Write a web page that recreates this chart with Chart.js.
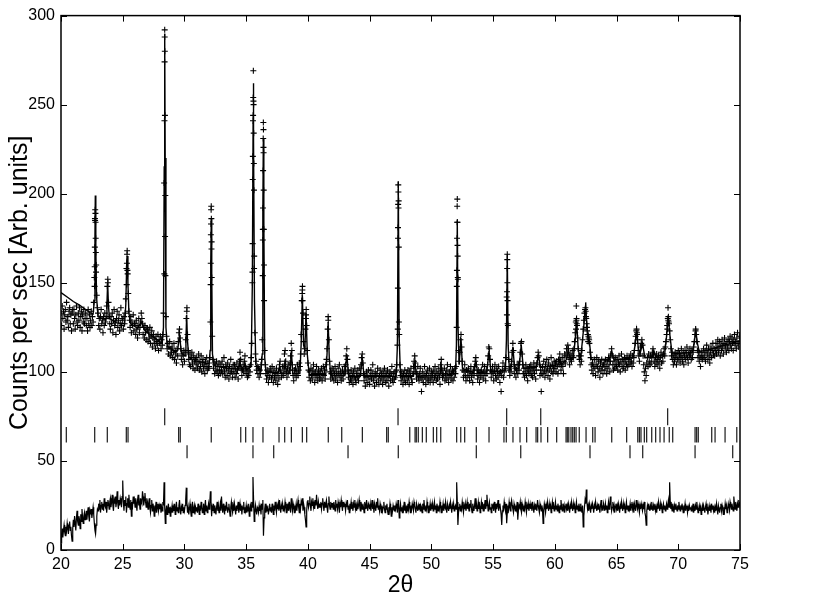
<!DOCTYPE html>
<html><head><meta charset="utf-8">
<script src="https://cdn.jsdelivr.net/npm/chart.js@4.4.1/dist/chart.umd.min.js"></script>
<style>html,body{margin:0;padding:0;background:#fff;}#wrap{width:830px;height:602px;}</style>
</head><body><div id="wrap"><canvas id="c" width="830" height="602"></canvas></div>
<script>
// scan grid of the measurement (2theta start and step)
const scanStart = 20, scanStep = 0.05;
// observed counts, one row per degree (20 steps of 0.05)
const obsCounts = [
133,126,137,130,134,124,132,135,128,139,129,131,125,134,136,127,132,123,133,135,
127,135,130,124,132,137,128,126,133,129,136,125,131,134,123,132,128,135,127,130,
133,126,130,123,135,127,132,125,129,134,126,131,128,139,153,186,184,160,143,136,
133,126,130,124,131,135,127,129,122,131,126,133,128,130,137,148,150,139,131,127,
124,131,127,133,122,129,135,126,128,121,130,134,125,129,132,123,127,136,126,130,
129,124,131,127,133,141,158,166,155,144,134,129,125,131,122,128,126,132,123,127,
127,121,129,124,119,126,130,122,125,128,133,130,127,121,125,119,126,122,118,124,
124,117,122,119,125,116,120,123,114,119,121,116,118,113,120,117,115,121,112,118,
116,120,113,118,115,121,133,206,288,199,131,120,113,116,110,114,117,109,113,111,
114,108,111,116,107,112,110,105,113,109,117,122,124,119,113,107,110,104,109,112,
106,111,118,130,136,121,112,107,104,110,103,108,111,105,102,109,106,101,107,104,
108,102,105,110,101,106,103,109,100,105,107,102,104,99,106,103,108,101,105,102,
103,108,128,183,173,120,107,102,105,99,104,101,106,100,103,98,105,101,99,104,
101,106,99,103,108,100,97,104,102,98,105,101,96,103,99,107,100,102,97,104,
100,104,97,102,99,105,101,96,103,106,111,107,102,98,101,104,100,106,109,103,
99,102,97,101,98,103,100,104,108,116,150,241,250,165,122,110,106,101,103,99,
102,97,101,99,104,107,118,180,226,140,112,104,99,96,101,98,94,100,97,102,
100,96,103,98,94,101,97,99,95,102,98,93,100,96,104,106,101,97,99,103,
98,103,110,112,106,100,97,102,99,104,101,105,109,116,112,104,98,95,101,99,
102,97,100,104,98,101,105,103,110,121,140,146,133,117,110,113,124,132,126,112,
105,101,97,100,95,102,98,96,101,104,99,94,100,97,103,98,95,101,99,96,
100,97,102,95,99,103,98,101,96,104,107,113,124,129,118,106,100,96,99,102,
97,101,95,99,103,96,100,98,94,102,99,104,97,100,95,98,101,96,99,103,
100,104,109,113,107,101,97,94,99,96,101,95,98,93,100,97,102,96,94,99,
97,101,95,98,102,99,104,108,110,105,99,95,98,92,97,100,94,98,101,96,
93,98,101,96,99,104,95,97,92,100,98,94,99,102,96,93,98,101,95,99,
97,93,100,96,102,98,94,99,95,101,97,92,98,100,95,99,103,96,94,99,
96,100,97,101,104,115,181,196,121,104,98,95,100,97,93,99,96,101,94,98,
99,95,101,97,93,100,98,102,96,94,99,103,106,109,105,100,96,99,103,97,
95,99,102,97,89,96,100,94,98,103,97,93,99,96,101,95,98,102,94,97,
100,96,99,94,101,97,103,98,95,100,96,99,102,97,93,104,107,101,97,99,
98,102,95,99,96,101,104,97,94,100,98,103,96,99,101,95,100,97,102,99,
103,125,184,152,112,106,111,118,121,114,106,101,97,100,104,98,95,101,97,100,
102,98,95,100,103,97,99,94,101,98,103,106,108,104,99,96,101,98,94,100,
97,101,99,104,96,100,103,98,95,101,99,104,109,114,113,107,101,97,100,103,
99,95,101,104,98,96,102,100,97,103,99,94,100,89,98,101,105,97,100,103,
102,108,142,163,126,107,101,98,103,100,106,111,116,112,104,99,102,97,101,104,
99,104,101,106,111,116,117,110,104,99,102,97,100,104,98,102,95,101,99,103,
100,104,98,102,97,101,105,99,103,96,101,105,108,111,109,104,98,101,89,99,
103,99,106,101,97,104,100,107,102,98,105,101,96,103,108,100,104,99,102,106,
102,105,100,106,103,99,107,104,110,106,101,104,108,103,99,106,110,105,109,113,
111,115,113,108,104,107,110,106,109,112,108,113,117,122,128,129,126,119,113,109,
107,104,109,106,112,118,124,129,133,135,134,130,125,121,117,119,116,111,108,104,
101,105,99,103,107,102,98,104,108,103,100,106,102,97,105,101,107,103,99,104,
105,101,107,103,99,106,102,108,104,100,106,110,113,109,104,101,106,102,108,104,
103,107,101,105,109,104,100,106,110,103,107,102,105,108,101,106,104,109,103,107,
104,108,105,110,106,103,109,105,108,112,116,120,123,122,118,112,109,106,110,114,
116,118,115,109,104,100,95,102,98,105,108,103,110,106,104,109,105,108,111,113,
110,106,103,108,105,110,107,104,109,106,102,108,111,105,109,106,110,113,109,114,
117,121,126,130,131,127,123,118,113,109,111,107,104,109,106,111,108,104,110,107,
112,107,110,105,109,113,108,106,111,104,109,112,107,110,114,108,105,111,109,113,
110,107,112,108,111,114,117,121,123,121,117,112,108,111,106,109,103,108,111,107,
109,113,108,111,106,112,115,110,107,113,109,105,111,114,108,112,116,110,113,109,
112,116,110,114,118,111,113,117,109,115,112,118,114,110,116,119,113,115,111,117,
114,118,112,117,120,115,113,119,116,112,118,121,115,117,113,119,122,116,114,120,
117];
// extra observed points on the steep peak flanks
const obsPeakX = [22.77,22.79,22.76,22.81,22.74,22.82,22.73,22.84,22.72,23.79,25.36,25.34,25.38,25.32,
28.40,28.41,28.39,28.42,28.38,28.43,28.37,28.46,30.19,
32.17,32.16,32.18,32.14,32.19,32.13,32.21,32.12,
35.58,35.57,35.59,35.56,35.61,35.54,35.62,35.53,35.63,35.52,35.64,35.51,
36.39,36.40,36.38,36.41,36.37,36.42,36.36,36.43,36.35,36.44,36.34,
39.56,39.54,39.57,39.86,39.84,41.64,
47.32,47.33,47.31,47.34,47.30,47.36,47.29,47.37,47.28,
52.10,52.09,52.11,52.08,52.12,52.13,52.07,52.14,52.06,
56.15,56.14,56.16,56.13,56.17,56.12,56.18,
61.74,61.76,61.78,61.72,62.48,62.52,62.58,62.62,62.68,62.72,62.78,
66.62,66.66,69.17,69.19,69.22,69.12,71.41];
const obsPeakY = [191,189,185,175,170,167,159,156,148,152,168,161,157,149,
292,280,274,244,241,176,155,154,134,
193,191,186,177,169,161,153,149,
269,254,252,244,234,221,217,208,202,172,158,156,
240,236,231,223,213,202,192,180,174,160,154,
148,144,140,135,130,131,
205,201,194,192,175,170,147,128,124,
197,193,184,175,171,165,157,153,148,
166,158,150,145,140,132,127,
137,130,127,124,136,131,127,123,121,120,118,
124,121,136,129,128,124,124];
// calculated profile (knots)
const calcX = [20,20.5,21,21.5,22,22.4,22.6,22.7,22.75,22.78,22.82,22.88,23.0,23.5,23.65,23.72,23.78,23.84,23.92,24.5,
25.15,25.25,25.33,25.36,25.42,25.5,25.65,26.2,26.5,26.8,27.5,28.2,28.3,28.36,28.40,28.44,28.5,28.6,29.3,29.45,29.6,29.75,
30.05,30.12,30.18,30.24,30.35,31.0,32.0,32.08,32.13,32.17,32.21,32.27,32.4,33.5,34.4,34.5,34.6,34.8,34.9,35.0,
35.4,35.5,35.56,35.58,35.61,35.67,35.78,36.2,36.3,36.35,36.39,36.43,36.5,36.6,37.6,37.7,37.8,38.05,38.15,38.25,
38.55,38.66,38.77,39.35,39.45,39.55,39.65,39.75,39.85,39.95,40.1,41.45,41.55,41.64,41.73,41.85,43.0,43.15,43.3,
44.25,44.4,44.55,47.15,47.25,47.32,47.39,47.5,48.55,48.67,48.8,50.7,50.8,50.9,51.95,52.03,52.10,52.16,52.25,52.4,52.52,
53.45,53.6,53.75,54.5,54.67,54.82,56.0,56.08,56.15,56.22,56.32,56.45,56.6,56.75,57.1,57.28,57.45,58.5,58.67,58.85,
60.3,60.4,60.5,60.95,61.1,61.25,61.5,61.65,61.77,61.9,62.1,62.3,62.45,62.5,62.55,62.7,62.8,62.95,64.4,64.6,64.8,
66.35,66.5,66.63,66.75,66.9,67.1,67.3,67.9,68.02,68.15,68.9,69.05,69.19,69.33,69.5,71.15,71.3,71.42,71.55,71.7,
72.5,73.5,74.5,75];
const calcY = [144.5,142,139.5,137.5,135,133,132.5,140,175,199,170,142,131,129.5,130,138,150,138,130,127.5,
127,138,163,165,150,133,127,124.5,128,123,119.5,116,125,215,290,220,125,114.5,111,112,121,110.5,
109,118,132,118,108,106,104.5,112,160,186,155,110,103.5,102,101.5,106,101.5,101.5,105,101,
103,150,240,262,230,140,104,100.5,110,190,231,185,108,100,99.5,103,99.5,99,107,99,
99.5,112,99,99,115,143,115,112,133,110,98.5,98.5,110,128,108,98,98,110,97.5,
97.5,108,97.5,97.5,115,207,120,97.5,97.5,106,97.5,98,104,98,99,115,185,125,104,119,102,
99.5,106,99.5,100,112,100,101,118,166,115,101,101.5,114,101.5,102,115,102,102.5,109,102.5,
104,107,104,107,112,107,108,118,128,112,108,122,134,139,131,118,117,107,106.5,112,106.5,
108,115,123,114,110,116,108,108.5,112,108.5,110,120,131,120,110,111,117,123,116,111.5,
112.5,114.5,116.5,117.5];
// difference curve (obs - calc, offset), same scan grid
const diffCounts = [
4,9,12,7,11,14,10,8,13,11,15,12,9,14,16,11,13,8,5,12,
17,13,19,15,11,18,22,16,14,19,17,12,20,16,23,18,15,19,21,17,
19,22,17,21,24,19,16,22,20,23,18,21,24,20,15,11,9,14,19,23,
22,26,23,28,21,25,27,23,26,22,29,25,24,27,21,25,28,26,23,27,
29,24,27,31,25,22,28,26,30,24,27,33,26,23,28,25,29,27,24,30,
39,27,22,28,25,30,21,26,29,24,31,26,23,28,19,27,25,30,26,28,
24,29,26,22,28,31,25,27,23,29,27,26,33,30,25,28,32,27,24,29,
27,23,26,29,24,21,25,28,22,26,24,19,25,23,27,21,24,26,22,25,
23,26,21,24,22,27,25,38,24,15,22,25,20,23,26,21,24,19,23,22,
25,21,24,22,26,20,23,27,22,24,21,25,28,23,20,24,22,26,21,24,
22,25,28,35,26,21,24,20,23,26,22,19,24,27,21,23,25,20,24,22,
24,21,26,23,20,25,22,27,24,21,23,26,20,24,28,22,25,21,23,26,
23,26,33,27,19,24,22,26,21,25,23,20,24,27,22,25,21,23,26,22,
30,24,21,26,23,20,25,22,27,24,21,23,26,22,19,24,27,23,21,25,
22,26,23,20,25,22,24,27,21,23,26,22,25,20,24,23,27,21,24,22,
25,21,24,22,26,19,23,25,22,27,24,41,28,16,21,25,22,20,24,23,
21,25,22,24,20,26,23,28,8,18,23,26,21,24,22,25,20,23,26,22,
24,21,26,23,20,25,22,27,24,21,25,23,26,22,28,24,21,25,23,26,
22,25,23,27,24,21,26,23,25,22,27,24,21,29,25,22,26,24,21,25,
23,26,22,25,28,24,21,26,23,27,25,29,22,26,24,20,17,13,22,27,
28,24,26,30,25,22,27,25,29,24,26,23,28,25,31,26,23,27,24,26,
24,27,23,26,29,25,22,27,24,26,28,24,21,26,30,25,23,27,24,26,
26,23,27,25,22,28,24,26,23,27,25,21,26,24,28,25,22,27,24,26,
25,22,26,24,28,23,25,21,26,24,27,23,25,22,26,24,28,23,25,22,
26,23,25,28,24,22,27,25,23,26,24,21,27,25,23,28,24,22,26,25,
23,26,22,25,28,23,25,21,26,24,22,27,24,29,23,25,22,26,24,21,
25,22,24,27,23,21,25,23,26,22,20,24,22,26,23,19,24,22,25,23,
22,25,23,26,24,21,28,25,18,23,26,22,24,21,25,23,27,22,24,21,
25,22,26,23,27,24,21,25,23,26,24,22,27,25,23,21,26,24,22,25,
23,26,22,25,24,21,26,23,28,24,22,25,23,27,24,21,25,23,26,22,
25,23,26,22,24,27,23,25,21,26,24,22,25,23,27,24,21,25,23,26,
22,25,24,27,23,21,26,24,22,25,23,27,24,21,25,23,26,22,24,25,
23,38,27,14,21,24,26,22,25,23,27,24,21,25,23,26,22,24,27,23,
25,22,26,24,28,23,21,26,24,22,25,29,23,26,22,24,27,23,25,21,
24,27,23,25,22,26,24,28,23,25,31,26,22,25,27,23,24,21,26,24,
25,22,27,24,21,26,23,25,28,22,24,26,23,20,14,22,25,23,27,24,
22,26,15,21,25,23,27,24,22,26,28,25,23,21,26,24,22,25,23,27,
17,22,25,24,27,23,21,26,24,22,25,23,27,24,21,25,23,26,22,24,
26,23,25,22,27,24,21,25,23,26,24,22,28,25,23,21,26,24,22,25,
23,15,22,26,24,21,25,23,27,24,22,26,23,25,21,24,27,23,25,22,
24,27,23,25,22,26,24,21,25,23,28,24,22,26,23,25,21,24,26,23,
25,22,26,24,21,25,23,27,24,22,26,23,25,21,24,27,23,25,22,26,
24,22,26,23,21,25,13,19,24,28,26,34,27,23,25,22,26,24,21,25,
23,26,24,21,25,23,27,24,22,25,23,26,24,21,25,28,23,24,22,26,
24,22,26,23,25,21,24,27,23,25,30,26,22,24,27,23,25,21,24,26,
23,25,22,26,24,21,25,23,27,24,22,26,23,25,21,24,27,23,25,22,
25,23,26,22,24,27,23,25,21,26,24,22,28,25,23,26,24,21,25,23,
26,24,22,25,23,27,21,19,14,22,25,23,26,24,22,25,23,27,24,22,
25,23,26,22,24,21,25,23,27,24,22,26,23,25,21,24,26,23,25,22,
24,26,23,25,28,24,38,27,23,25,22,26,24,21,25,23,26,24,22,25,
23,27,24,22,25,23,26,24,21,25,23,26,22,24,25,21,24,22,25,23,
24,22,25,23,26,21,24,22,25,23,27,24,21,23,25,22,24,20,23,25,
22,25,23,21,24,26,22,24,20,23,25,22,24,21,26,23,25,22,24,21,
24,22,26,23,20,25,23,21,24,26,22,25,23,20,24,22,26,23,25,21,
23,26,24,22,27,25,23,26,24,22,30,26,23,27,25,22,26,24,28,25,
27];
// Bragg reflection positions of the three phases
const phase1Ticks = [28.40,47.30,56.10,58.86,69.14];
const phase2Ticks = [20.43,22.73,23.75,25.29,25.43,29.53,29.66,32.17,34.56,34.96,35.55,36.36,37.66,38.12,38.66,39.55,39.90,41.65,42.74,44.41,46.38,46.51,48.25,48.68,48.78,48.94,49.27,49.59,50.16,50.43,50.76,52.05,52.38,52.70,53.64,54.67,55.88,56.07,56.61,57.18,57.72,58.48,58.61,58.88,59.42,60.15,60.91,61.01,61.13,61.31,61.45,61.58,61.72,61.98,62.53,63.07,63.26,64.61,65.82,66.72,66.85,66.98,67.25,67.44,67.85,68.17,68.52,68.85,69.27,69.55,71.36,71.49,71.62,72.71,72.98,73.79,74.74];
const phase3Ticks = [30.21,35.55,37.23,43.25,47.32,53.64,57.24,62.85,66.09,67.12,71.36,74.41];
const xTicks = [20,25,30,35,40,45,50,55,60,65,70,75];
const yTicks = [0,50,100,150,200,250,300];

// ---- build datasets ----
const gridX = i => +(scanStart + i*scanStep).toFixed(2);
const obsPts = obsCounts.map((v,i)=>({x:gridX(i),y:v})).concat(obsPeakX.map((x,i)=>({x:x,y:obsPeakY[i]})));
const calcPts = calcX.map((x,i)=>({x:x,y:calcY[i]}));
const diffPts = diffCounts.map((v,i)=>({x:gridX(i),y:v}));
const rowCenter = [74.8, 64.7, 55.2];
const rowHalf = [8.5, 7.7, 6.5];
const tickSet = (arr,k)=>({data:arr.map(x=>({x:x,y:rowCenter[k]})),showLine:false,pointStyle:'line',rotation:90,
  pointRadius:rowHalf[k],pointBorderColor:'#1a1a1a',pointBorderWidth:1.2,pointBackgroundColor:'#1a1a1a',pointHoverRadius:0});

const frame = {
  id:'frame',
  afterDatasetsDraw(chart){
    const {ctx, chartArea:a, scales:{x,y}} = chart;
    ctx.save();
    ctx.strokeStyle='#000'; ctx.lineWidth=1;
    ctx.beginPath();
    xTicks.forEach(v=>{const px=Math.round(x.getPixelForValue(v))+0.5;
      ctx.moveTo(px,a.bottom); ctx.lineTo(px,a.bottom-6); ctx.moveTo(px,a.top); ctx.lineTo(px,a.top+6);});
    yTicks.forEach(v=>{const py=Math.round(y.getPixelForValue(v))+0.5;
      ctx.moveTo(a.left,py); ctx.lineTo(a.left+6,py); ctx.moveTo(a.right,py); ctx.lineTo(a.right-6,py);});
    ctx.stroke();
    ctx.lineWidth=1.5;
    ctx.strokeRect(a.left, a.top, a.right-a.left, a.bottom-a.top);
    ctx.restore();
  }
};

Chart.defaults.font.family = '"Liberation Sans", Arial, Helvetica, sans-serif';
Chart.defaults.font.size = 16;
Chart.defaults.color = '#000';

new Chart(document.getElementById('c'), {
  type:'scatter',
  data:{datasets:[
    {data:calcPts, showLine:true, borderColor:'#000', borderWidth:1.4, pointRadius:0, tension:0},
    {data:obsPts, showLine:false, pointStyle:'cross', pointRadius:3, pointBorderColor:'#000', pointBorderWidth:1.1, pointHoverRadius:0},
    {data:diffPts, showLine:true, borderColor:'#000', borderWidth:1.2, pointRadius:0, tension:0},
    tickSet(phase1Ticks,0), tickSet(phase2Ticks,1), tickSet(phase3Ticks,2)
  ]},
  options:{
    responsive:false, animation:false, devicePixelRatio:1,
    layout:{padding:{top:14,right:90,left:0,bottom:0}},
    plugins:{legend:{display:false},tooltip:{enabled:false}},
    events:[],
    scales:{
      x:{type:'linear',min:20,max:75,
        afterBuildTicks:s=>{s.ticks=xTicks.map(v=>({value:v}));},
        afterFit:s=>{s.height=52;},
        grid:{display:false, drawTicks:false}, border:{display:false},
        ticks:{font:{size:16},padding:5,maxRotation:0,autoSkip:false,color:'#000'},
        title:{display:true,text:'2θ',font:{size:23},padding:{top:0,bottom:3},color:'#000'}},
      y:{type:'linear',min:0,max:300,
        afterBuildTicks:s=>{s.ticks=yTicks.map(v=>({value:v}));},
        afterFit:s=>{s.width=61;},
        grid:{display:false, drawTicks:false}, border:{display:false},
        ticks:{font:{size:16},padding:6,autoSkip:false,color:'#000'},
        title:{display:true,text:'Counts per sec [Arb. units]',font:{size:25},padding:{top:5,bottom:0},color:'#000'}}
    }
  },
  plugins:[frame]
});
</script></body></html>
